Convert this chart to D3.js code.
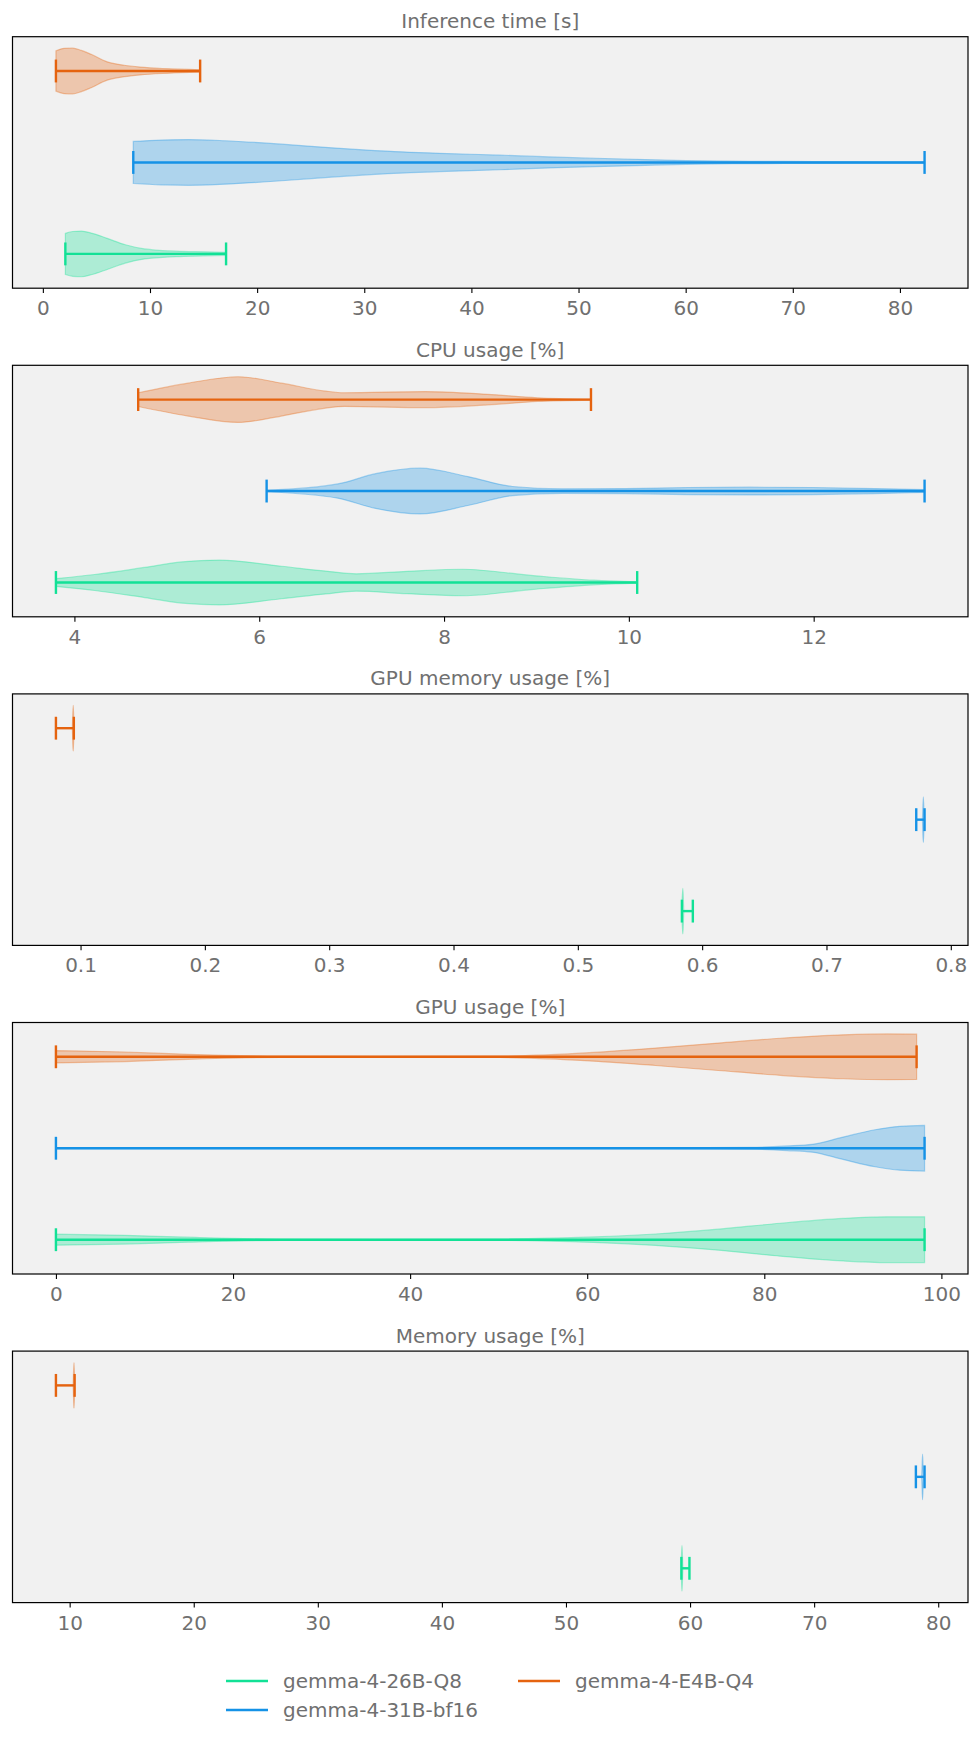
<!DOCTYPE html>
<html>
<head>
<meta charset="utf-8">
<script src="https://cdn.jsdelivr.net/npm/d3@7"></script>
<style>
  body { margin: 0; background: #fff; }
  svg text { font-family: "DejaVu Sans", sans-serif; fill: #707070; }
</style>
</head>
<body>
<div id="chart"></div>
<script>
// models, bottom to top (violin positions 1, 2, 3)
const models = ["gemma-4-26B-Q8", "gemma-4-31B-bf16", "gemma-4-E4B-Q4"];
const colors = ["#12e196", "#1592e6", "#e5630f"];

const metrics = ["Inference time [s]", "CPU usage [%]", "GPU memory usage [%]", "GPU usage [%]", "Memory usage [%]"];

// tick labels per panel
const inferenceTicks = [0, 10, 20, 30, 40, 50, 60, 70, 80];
const cpuTicks = [4, 6, 8, 10, 12];
const gpuMemTicks = [0.1, 0.2, 0.3, 0.4, 0.5, 0.6, 0.7, 0.8];
const gpuTicks = [0, 20, 40, 60, 80, 100];
const memTicks = [10, 20, 30, 40, 50, 60, 70, 80];

// extrema [min, max] per model
const inferenceRange = [[2.1, 17.1], [8.44, 82.3], [1.22, 14.68]];
const cpuRange = [[3.80, 10.09], [6.08, 13.2], [4.69, 9.59]];
const gpuMemRange = [[0.5837, 0.5925], [0.7722, 0.7789], [0.0802, 0.0946]];
const gpuRange = [[0, 98.1], [0, 98.1], [0, 97.2]];
const memRange = [[59.3, 59.95], [78.2, 78.9], [8.894, 10.40]];

// violin outlines: [value, half width relative to widest point]
const inferenceShape = [
  [[2.1, 0.9], [2.8, 0.98], [3.6, 1.0], [4.6, 0.9], [6.0, 0.68], [7.7, 0.4], [9.5, 0.22], [12.4, 0.12], [15, 0.09], [17.1, 0.07]],
  [[8.44, 0.92], [11, 0.98], [13.6, 1.0], [17, 0.95], [22.3, 0.8], [27, 0.64], [31, 0.52], [37, 0.4], [42.7, 0.32], [48, 0.23], [54.3, 0.15], [60, 0.08], [66, 0.05], [72, 0.04], [78, 0.03], [82.3, 0.03]],
  [[1.22, 0.88], [2.0, 0.99], [2.78, 1.0], [3.6, 0.9], [4.5, 0.73], [6.0, 0.4], [7.6, 0.25], [9.1, 0.17], [11.6, 0.1], [14.68, 0.05]]
];
const cpuShape = [
  [[3.80, 0.17], [4.22, 0.35], [4.76, 0.66], [5.16, 0.9], [5.57, 0.98], [6.24, 0.71], [6.72, 0.5], [7.05, 0.38], [7.6, 0.49], [8.2, 0.58], [8.94, 0.31], [9.62, 0.1], [10.09, 0.03]],
  [[6.08, 0.03], [6.85, 0.31], [7.26, 0.76], [7.74, 1.0], [8.27, 0.62], [8.74, 0.2], [9.28, 0.1], [9.96, 0.11], [10.64, 0.155], [11.31, 0.17], [11.99, 0.155], [12.66, 0.11], [13.2, 0.06]],
  [[4.69, 0.3], [5.23, 0.72], [5.77, 1.0], [6.24, 0.72], [6.72, 0.37], [6.92, 0.3], [7.8, 0.35], [8.47, 0.23], [9.01, 0.08], [9.59, 0.02]]
];
const gpuMemShape = [
  [[0.5837, 0.3], [0.5845, 1.0], [0.5853, 0], [0.5925, 0]],
  [[0.7722, 0], [0.7771, 0], [0.7779, 1.0], [0.7787, 0.05], [0.7789, 0.02]],
  [[0.0802, 0], [0.0933, 0], [0.0941, 1.0], [0.0946, 0.35]]
];
const gpuShape = [
  [[0, 0.24], [7.83, 0.19], [14.9, 0.11], [25.4, 0.03], [36, 0.02], [50.1, 0.03], [60.7, 0.12], [67.7, 0.25], [74.8, 0.46], [81.8, 0.72], [88.9, 0.93], [93.9, 1.0], [98.1, 1.0]],
  [[0, 0.02], [64.2, 0.02], [78.3, 0.04], [82.6, 0.1], [85.4, 0.17], [88.9, 0.49], [92.5, 0.81], [95.3, 0.96], [98.1, 1.0]],
  [[0, 0.27], [7.83, 0.21], [14.9, 0.11], [25.4, 0.03], [36, 0.02], [50.1, 0.03], [60.7, 0.19], [67.7, 0.38], [74.8, 0.6], [81.8, 0.81], [88.9, 0.96], [93.9, 1.0], [97.2, 0.99]]
];
const memShape = [
  [[59.3, 0.4], [59.35, 1.0], [59.43, 0], [59.95, 0]],
  [[78.2, 0], [78.66, 0], [78.74, 1.0], [78.82, 0], [78.9, 0]],
  [[8.894, 0], [10.27, 0], [10.35, 1.0], [10.40, 0.3]]
];

const panels = [
  { title: metrics[0], ticks: inferenceTicks, range: inferenceRange, shape: inferenceShape },
  { title: metrics[1], ticks: cpuTicks, range: cpuRange, shape: cpuShape },
  { title: metrics[2], ticks: gpuMemTicks, range: gpuMemRange, shape: gpuMemShape },
  { title: metrics[3], ticks: gpuTicks, range: gpuRange, shape: gpuShape },
  { title: metrics[4], ticks: memTicks, range: memRange, shape: memShape }
];

const outerWidth = 979;
const outerHeight = 1741;
const left = 12.5, right = 968;
const top0 = 36.7, step = 328.6, ph = 251.5;
const pw = right - left;

const svg = d3.select("#chart")
  .append("svg")
  .attr("width", outerWidth)
  .attr("height", outerHeight);

// positions 1..3, matplotlib-like margins around violins of width 0.5
const y = d3.scaleLinear().domain([3.375, 0.625]).range([0, ph]);
const halfW = y(0.75) - y(1);   // 0.25 units
const capW = halfW / 2;

panels.forEach((p, i) => {
  const g = svg.append("g").attr("transform", `translate(${left},${top0 + i * step})`);

  const lo = d3.min(p.range, (r) => r[0]);
  const hi = d3.max(p.range, (r) => r[1]);
  const pad = (hi - lo) * 0.05;
  const x = d3.scaleLinear().domain([lo - pad, hi + pad]).range([0, pw]);

  g.append("rect").attr("width", pw).attr("height", ph).attr("fill", "#f1f1f1");

  // violin bodies
  p.shape.forEach((s, k) => {
    const cy = y(k + 1);
    const area = d3.area()
      .x((d) => x(d[0]))
      .y0((d) => cy - d[1] * halfW)
      .y1((d) => cy + d[1] * halfW)
      .curve(d3.curveMonotoneX);
    g.append("path")
      .attr("d", area(s))
      .attr("fill", colors[k])
      .attr("fill-opacity", 0.3)
      .attr("stroke", colors[k])
      .attr("stroke-opacity", 0.35)
      .attr("stroke-width", 1.2);
  });

  // extrema bars and caps
  p.range.forEach((r, k) => {
    const cy = y(k + 1);
    const lg = g.append("g").attr("stroke", colors[k]).attr("stroke-width", 2.4);
    lg.append("line").attr("x1", x(r[0])).attr("x2", x(r[1])).attr("y1", cy).attr("y2", cy);
    r.forEach((v) => {
      lg.append("line").attr("x1", x(v)).attr("x2", x(v)).attr("y1", cy - capW).attr("y2", cy + capW);
    });
  });

  // frame
  g.append("rect")
    .attr("width", pw).attr("height", ph)
    .attr("fill", "none").attr("stroke", "#000").attr("stroke-width", 1.2);

  const ax = g.append("g")
    .attr("transform", `translate(0,${ph})`)
    .call(d3.axisBottom(x).tickValues(p.ticks).tickFormat((d) => String(d)).tickSize(4.9).tickPadding(4.9));
  ax.select(".domain").remove();
  ax.selectAll(".tick line").attr("stroke", "#000").attr("stroke-width", 1.1);
  ax.selectAll(".tick text").attr("y", 27).attr("dy", null).style("font-size", "20px");

  g.append("text")
    .attr("x", pw / 2)
    .attr("y", -8.5)
    .attr("text-anchor", "middle")
    .style("font-size", "20px")
    .text(p.title);
});

// legend, 2 columns filled column by column
const legendCols = [226, 518];
const legendRows = [1681, 1710];
models.forEach((m, k) => {
  const lx = legendCols[Math.floor(k / 2)];
  const ly = legendRows[k % 2];
  const lg = svg.append("g").attr("transform", `translate(${lx},${ly})`);
  lg.append("line").attr("x1", 0).attr("x2", 42).attr("y1", 0).attr("y2", 0)
    .attr("stroke", colors[k]).attr("stroke-width", 2.4);
  lg.append("text").attr("x", 57).attr("y", 7).style("font-size", "20px").text(m);
});
</script>
</body>
</html>
